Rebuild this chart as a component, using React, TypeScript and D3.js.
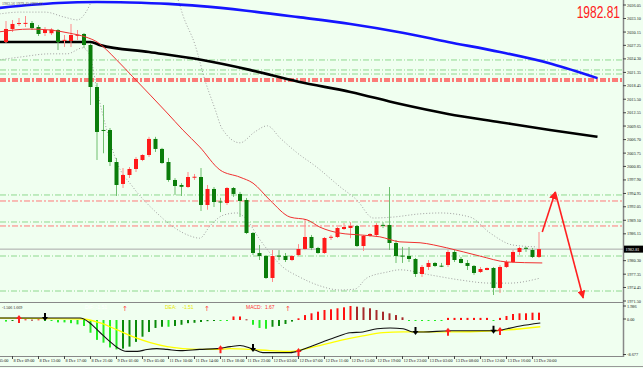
import React from "react";
import * as d3 from "d3";

const W = 643;
const H = 368;
const plotRight = 623;
const mainBottom = 302;
const subBottom = 356;

// hourly bars, 8 Dec 08:00 .. 13 Dec 22:00
const opens = [2027.98, 2030.82, 2031.91, 2032.1, 2032.12, 2031.25, 2029.94, 2029.9, 2030.6, 2028.35, 2028.2, 2029.45, 2029.73, 2027.33, 2018.17, 2008.8, 2008.79, 2001.81, 1997.02, 1998.98, 2000.29, 2002.25, 2003.34, 2006.84, 2004.66, 2001.81, 1997.89, 1996.8, 1996.36, 1998.5, 1998.54, 1992.44, 1995.93, 1993.2, 1992.87, 1996.14, 1994.84, 1993.53, 1986.33, 1981.97, 1981.31, 1976.52, 1981.4, 1981.31, 1980.44, 1981.53, 1982.84, 1985.46, 1983.06, 1981.97, 1985.4, 1985.46, 1987.2, 1987.42, 1987.86, 1983.49, 1985.68, 1985.89, 1988.1, 1988.08, 1984.15, 1981.4, 1981.31, 1980.66, 1977.39, 1978.92, 1979.79, 1979.2, 1979.35, 1982.19, 1980.66, 1979.79, 1979.14, 1977.83, 1978.26, 1978.7, 1974.34, 1978.92, 1980.01, 1982.19, 1983.1, 1982.62, 1981.1];
const highs = [2032.56, 2032.78, 2033.21, 2033.65, 2032.56, 2031.69, 2031.25, 2031.0, 2030.82, 2029.5, 2031.91, 2030.6, 2029.94, 2027.76, 2019.04, 2014.24, 2009.23, 2002.69, 2000.5, 2000.72, 2002.91, 2003.5, 2007.3, 2007.3, 2004.9, 2002.7, 1998.3, 1997.2, 1999.63, 1999.2, 2000.5, 1996.8, 1996.36, 1994.0, 1996.36, 1996.36, 1995.3, 1993.97, 1986.55, 1983.71, 1981.53, 1982.62, 1982.6, 1981.97, 1981.5, 1983.9, 1989.4, 1985.9, 1983.3, 1985.46, 1985.9, 1987.64, 1988.5, 1988.7, 1988.08, 1985.89, 1986.3, 1988.5, 1988.7, 1996.36, 1984.8, 1983.3, 1983.28, 1980.88, 1979.35, 1980.44, 1980.0, 1979.8, 1982.62, 1982.62, 1981.1, 1980.44, 1979.35, 1978.92, 1978.8, 1978.92, 1979.35, 1980.44, 1982.62, 1983.28, 1983.3, 1983.06, 1986.55];
const lows = [2027.76, 2030.16, 2031.47, 2031.25, 2030.6, 2029.29, 2029.29, 2029.5, 2026.24, 2026.9, 2026.89, 2028.4, 2026.67, 2014.24, 2002.25, 2003.72, 2000.94, 1994.4, 1996.14, 1998.32, 1999.63, 2002.0, 2002.9, 2004.0, 2001.4, 1997.5, 1994.6, 1994.4, 1996.14, 1997.9, 1991.13, 1991.4, 1992.0, 1990.9, 1992.44, 1994.2, 1989.82, 1986.1, 1981.53, 1980.44, 1976.3, 1975.65, 1980.4, 1980.0, 1980.2, 1981.3, 1982.6, 1982.6, 1981.8, 1981.8, 1984.8, 1985.24, 1987.0, 1985.2, 1983.28, 1982.4, 1985.5, 1985.46, 1987.4, 1982.62, 1979.79, 1979.8, 1980.0, 1976.74, 1976.74, 1978.26, 1978.9, 1978.9, 1978.92, 1980.0, 1979.7, 1978.26, 1977.2, 1977.61, 1978.2, 1972.81, 1973.25, 1978.7, 1979.79, 1981.53, 1982.2, 1980.88, 1980.88];
const closes = [2030.82, 2031.91, 2032.12, 2032.15, 2031.03, 2029.73, 2030.6, 2030.7, 2027.98, 2028.45, 2029.51, 2029.55, 2027.33, 2018.17, 2008.36, 2008.6, 2001.81, 1996.8, 1998.98, 2000.29, 2002.47, 2003.34, 2006.84, 2004.66, 2001.59, 1997.89, 1996.58, 1996.4, 1998.54, 1998.6, 1992.44, 1995.93, 1993.09, 1993.0, 1996.14, 1994.84, 1993.31, 1986.33, 1981.97, 1981.31, 1976.52, 1981.31, 1981.2, 1980.44, 1981.31, 1982.84, 1985.46, 1983.06, 1981.97, 1985.24, 1985.5, 1987.42, 1987.64, 1987.86, 1983.49, 1985.68, 1986.11, 1988.08, 1987.9, 1984.15, 1981.31, 1981.2, 1980.66, 1977.39, 1978.92, 1979.79, 1979.14, 1979.1, 1982.19, 1980.44, 1979.79, 1979.14, 1977.61, 1978.48, 1978.7, 1974.34, 1978.92, 1980.01, 1982.19, 1983.06, 1982.9, 1981.1, 1982.81];

// moving averages / bands: [bar, price]
const blueMA = [[-1, 2035.4], [4, 2036.1], [8, 2036.5], [14, 2036.7], [19, 2036.6], [25, 2036.3], [30, 2035.8], [37, 2034.8], [45, 2033.4], [53, 2031.9], [61, 2030.0], [68, 2028.0], [76, 2025.8], [84, 2023.2], [91, 2020.1]];
const blackMA = [[-1, 2027.98], [13, 2027.98], [14.5, 2027.3], [22, 2025.8], [30, 2024.1], [37.5, 2021.9], [45, 2019.3], [53, 2017.1], [60.5, 2014.5], [68, 2012.3], [76, 2010.5], [83.7, 2008.8], [91, 2007.3]];
const redMA = [[-1, 2030.2], [3.7, 2030.8], [6.8, 2030.6], [9.8, 2029.9], [12.2, 2029.1], [14, 2028.0], [17, 2024.1], [19.5, 2020.4], [22.2, 2016.4], [24.8, 2012.5], [27.2, 2008.8], [29.8, 2005.1], [32.9, 2000.1], [36, 1998.5], [38, 1997.2], [40.6, 1993.5], [43.7, 1989.8], [46.3, 1989.2], [48.3, 1987.6], [51.4, 1986.3], [54.5, 1985.9], [57.5, 1985.5], [60.6, 1984.4], [63.7, 1984.2], [67.8, 1983.1], [72.9, 1981.3], [77.1, 1980.0], [82.5, 1979.8]];
const upperBand = [[-1, 2034.1], [2.2, 2034.5], [6, 2034.5], [9, 2033.4], [11, 2032.8], [12.3, 2034.5], [13.4, 2037.6], [17, 2046], [23, 2046], [26.5, 2037.1], [27.2, 2033.9], [29.1, 2027.3], [30.6, 2019.7], [32.2, 2013.2], [33.2, 2009.2], [36, 2006.0], [38.3, 2008.4], [40.2, 2009.7], [42.2, 2007.0], [44.8, 2003.8], [47.8, 2000.7], [51.4, 1996.4], [54, 1993.5], [56.5, 1989.6], [59.5, 1989.8], [63.7, 1990.5], [66.8, 1990.7], [71.4, 1989.8], [74.5, 1986.3], [78, 1983.7], [81.7, 1983.3]];
const lowerBand = [[-1, 2024.1], [2.2, 2024.7], [6.8, 2025.4], [9.4, 2025.4], [11.8, 2026.7], [12.9, 2025.1], [14, 2017.5], [15.5, 2008.8], [17.1, 2001.6], [19.5, 1996.4], [23.2, 1990.7], [26, 1987.4], [28.3, 1985.7], [29.8, 1985.2], [31.4, 1987.9], [33.4, 1990.2], [35.5, 1990.7], [36.8, 1989.6], [39.1, 1984.8], [42.6, 1978.9], [45.2, 1976.7], [48.3, 1974.8], [51.4, 1973.9], [53.7, 1974.1], [55.5, 1976.5], [58.6, 1977.8], [60.6, 1978.3], [65.2, 1977.2], [69.8, 1976.1], [74.5, 1975.4], [77.5, 1975.4], [82.2, 1976.5]];

const greenLevels = [2024.06, 2021.88, 2021.0, 1994.62, 1988.73, 1981.31, 1973.68];
const redLevels = [2019.92, 2019.48, 1993.31, 1987.86];
const bidPrice = 1982.81;
const projection = [[82.5, 1986.56], [84.5, 1995.28], [88.8, 1972.17]];

// 1983.20 sits under the bid price box, so it is not shown
const priceTicks = [2036.05, 2033.1, 2030.15, 2027.25, 2024.3, 2021.35, 2018.45, 2015.5, 2012.55, 2009.65, 2006.7, 2003.75, 2000.85, 1997.9, 1994.95, 1992.05, 1989.1, 1986.15, 1980.3, 1977.35, 1974.45, 1971.5];
const timeLabels = ["8 Dec 05:00", "8 Dec 09:00", "8 Dec 13:00", "8 Dec 17:00", "8 Dec 21:00", "9 Dec 01:00", "9 Dec 05:00", "11 Dec 10:00", "11 Dec 14:00", "11 Dec 18:00", "11 Dec 23:00", "12 Dec 03:00", "12 Dec 07:00", "12 Dec 11:00", "12 Dec 15:00", "12 Dec 19:00", "12 Dec 23:00", "13 Dec 03:00", "13 Dec 08:00", "13 Dec 12:00", "13 Dec 16:00", "13 Dec 20:00"];

// MACD histogram per bar, DIF / DEA lines as [bar, value]
const macdHist = [-0.4, -0.1, 0.1, 0.1, 0.05, 0.1, -0.1, -0.2, -0.6, -0.6, -0.8, -1.1, -1.5, -3.2, -5.0, -5.7, -6.9, -7.4, -7.2, -6.7, -5.5, -4.2, -3.0, -2.0, -1.7, -1.7, -1.5, -1.2, -0.8, -0.7, -0.5, -0.3, -0.1, -0.1, -0.1, 0.5, 0.5, 0.1, -1.2, -2.0, -2.2, -1.7, -1.5, -1.0, -0.4, 0.24, 0.7, 0.95, 1.18, 1.42, 1.52, 1.66, 1.8, 1.986, 1.89, 1.8, 1.66, 1.42, 1.18, 0.95, 0.7, 0.38, -0.05, -0.1, -0.1, -0.1, -0.1, -0.1, 0.3, 0.3, 0.3, 0.3, 0.3, 0.3, 0.3, -0.1, 0.3, 0.57, 0.85, 0.95, 0.95, 1.04, 1.04];
const difLine = [[-1, 0.28], [11.4, 0.28], [12.9, -0.74], [14.5, -3.2], [16, -5.45], [17.1, -6.9], [18.6, -7.9], [20.2, -7.9], [21.7, -7.4], [23.2, -7.2], [24.8, -7.4], [26.8, -7.7], [29.8, -7.4], [32.5, -7.2], [34.5, -6.7], [36, -6.4], [37.8, -7.2], [39.5, -8.2], [41.7, -8.2], [43.7, -8.2], [45.2, -7.7], [46.8, -6.7], [48.8, -5.45], [50.9, -4.2], [52.9, -3.2], [54.9, -3.0], [57.1, -2.2], [59.1, -2.0], [61.1, -2.2], [62.6, -3.0], [64.2, -3.0], [68.3, -2.7], [75.5, -2.7], [77.1, -2.2], [79.1, -1.5], [82.2, -0.74]];
const deaLine = [[-1, 0.28], [11.8, 0.14], [14.5, -0.74], [17.1, -2.5], [19.5, -4.2], [22.2, -5.7], [24.8, -6.7], [27.2, -7.2], [29.8, -7.4], [32.5, -7.4], [34.5, -7.2], [37.5, -7.4], [40.6, -7.7], [43.7, -7.9], [45.7, -7.4], [48.8, -6.2], [51.8, -5.0], [54.9, -4.0], [58, -3.2], [61.1, -3.0], [65.2, -3.0], [67.8, -3.0], [75, -2.7], [77.1, -2.5], [82.2, -1.7]];
const upArrows = [2, 33, 45, 68, 76];
const downArrows = [6, 38, 63, 75];
const macdTicks = [1.986, 0, -8.677];

const x = d3.scaleLinear().domain([0, 82]).range([6, 539]);
const y = d3.scaleLinear().domain([1971.5, 2036.05]).range([301, 5]);
const my = d3.scaleLinear().domain([-8.677, 0, 1.986]).range([354.5, 320, 306]);

const priceLine = d3.line<number[]>().x(d => x(d[0])).y(d => y(d[1])).curve(d3.curveMonotoneX);
const macdLine = d3.line<number[]>().x(d => x(d[0])).y(d => my(d[1])).curve(d3.curveMonotoneX);
const interp = (pts: number[][], b: number) => {
  for (let i = 1; i < pts.length; i++) {
    if (b <= pts[i][0]) {
      const t = (b - pts[i - 1][0]) / (pts[i][0] - pts[i - 1][0]);
      return pts[i - 1][1] + t * (pts[i][1] - pts[i - 1][1]);
    }
  }
  return pts[pts.length - 1][1];
};

const small = { fontFamily: "Liberation Serif", fontSize: 4.3, fill: "#222" };

export default function App() {
  return (
    <div>
      <style>{`body{margin:0}`}</style>
      <svg width={W} height={H} style={{ display: "block", background: "#f0fff0" }}>
        <defs>
          <clipPath id="mainClip"><rect x={0} y={0} width={plotRight} height={mainBottom} /></clipPath>
          <clipPath id="subClip"><rect x={0} y={mainBottom + 1} width={plotRight} height={subBottom - mainBottom - 1} /></clipPath>
          <marker id="head" viewBox="0 0 10 10" refX={9} refY={5} markerWidth={5} markerHeight={5} orient="auto">
            <path d="M0,0 L10,5 L0,10 z" fill="#ff2020" />
          </marker>
        </defs>

        <g clipPath="url(#mainClip)">
          {greenLevels.map((p, i) => (
            <line key={"g" + i} x1={0} x2={plotRight} y1={y(p)} y2={y(p)} stroke="#8ed88e" strokeDasharray="6 2 1 2" />
          ))}
          {redLevels.map((p, i) => (
            <line key={"r" + i} x1={0} x2={plotRight} y1={y(p)} y2={y(p)} stroke={i < 2 ? "#ff5050" : "#ff7a7a"} strokeWidth={i < 2 ? 1.4 : 1} strokeDasharray="6 2 2 2" />
          ))}
          <line x1={0} x2={plotRight} y1={y(bidPrice)} y2={y(bidPrice)} stroke="#a8a8a8" />

          <path d={priceLine(upperBand) || ""} fill="none" stroke="#a0a0a0" strokeDasharray="1 2" />
          <path d={priceLine(lowerBand) || ""} fill="none" stroke="#a0a0a0" strokeDasharray="1 2" />
          <path d={priceLine(blueMA) || ""} fill="none" stroke="#1515ff" strokeWidth={2.6} />
          <path d={priceLine(blackMA) || ""} fill="none" stroke="#000" strokeWidth={2.6} />

          {opens.map((o, i) => {
            const c = closes[i];
            const up = c >= o;
            const top = y(Math.max(o, c));
            const h = Math.max(1, y(Math.min(o, c)) - top);
            return (
              <g key={i}>
                <line x1={x(i)} x2={x(i)} y1={y(highs[i])} y2={y(lows[i])} stroke={up ? "#ff8a8a" : "#6fbf6f"} />
                <rect x={x(i) - 2} y={top} width={4} height={h} fill={up ? "#ff1a1a" : "#0a7d0a"} />
              </g>
            );
          })}

          <path d={priceLine(redMA) || ""} fill="none" stroke="#f03030" strokeWidth={1} />

          <line x1={x(projection[0][0])} y1={y(projection[0][1])} x2={x(projection[1][0])} y2={y(projection[1][1])} stroke="#ff2020" strokeWidth={1.6} markerEnd="url(#head)" />
          <line x1={x(projection[1][0])} y1={y(projection[1][1])} x2={x(projection[2][0])} y2={y(projection[2][1])} stroke="#ff2020" strokeWidth={1.6} markerEnd="url(#head)" />
        </g>

        <text x={2} y={5} style={{ ...small, fontSize: 4, fill: "#555" }}>1983.56 1979.45 1982.81</text>
        <text transform="translate(620,18) scale(0.75,1)" textAnchor="end" style={{ fontFamily: "Liberation Sans", fontSize: 16, fill: "#ff2020" }}>1982.81</text>

        {/* MACD window */}
        <g clipPath="url(#subClip)">
          {macdHist.map((v, i) => {
            const prev = i > 0 ? macdHist[i - 1] : v;
            const col = v >= 0 ? (v >= prev ? "#ff1010" : "#a52a2a") : (v <= prev ? "#22ee22" : "#0a8a0a");
            const y0 = my(0);
            const y1 = my(v);
            return <rect key={i} x={x(i) - 1} y={Math.min(y0, y1)} width={2} height={Math.max(1, Math.abs(y1 - y0))} fill={col} />;
          })}
          <path d={macdLine(deaLine) || ""} fill="none" stroke="#ffff00" strokeWidth={1.3} />
          <path d={macdLine(difLine) || ""} fill="none" stroke="#111" strokeWidth={1.1} />
          {upArrows.map((b, i) => {
            const cx = x(b), cy = my(interp(difLine, b)) - 3;
            return <path key={"u" + i} d={`M${cx},${cy} L${cx + 3},${cy + 4} L${cx + 1},${cy + 4} L${cx + 1},${cy + 8} L${cx - 1},${cy + 8} L${cx - 1},${cy + 4} L${cx - 3},${cy + 4} Z`} fill="#ff2020" />;
          })}
          {downArrows.map((b, i) => {
            const cx = x(b), cy = my(interp(difLine, b)) + 3;
            return <path key={"d" + i} d={`M${cx},${cy} L${cx + 3},${cy - 4} L${cx + 1},${cy - 4} L${cx + 1},${cy - 8} L${cx - 1},${cy - 8} L${cx - 1},${cy - 4} L${cx - 3},${cy - 4} Z`} fill="#000" />;
          })}
        </g>
        <text x={2} y={309} style={{ ...small, fontSize: 4 }}>-1.506 1.669</text>
        <text x={85} y={309} style={{ fontFamily: "Liberation Sans", fontSize: 5, fill: "#ffffff" }}>DIF: -1.51</text>
        <text x={165} y={309} style={{ fontFamily: "Liberation Sans", fontSize: 5, fill: "#e8e800" }}>DEA: &#160;&#160; -1.51</text>
        <text x={246} y={309} style={{ fontFamily: "Liberation Sans", fontSize: 5, fill: "#ff3030" }}>MACD: &#160;1.67</text>
        {[125, 207, 288].map((px, i) => (
          <text key={i} x={px} y={311} textAnchor="middle" style={{ fontFamily: "DejaVu Sans", fontSize: 7, fill: "#ff4040" }}>↑</text>
        ))}

        {/* frames */}
        <line x1={0} x2={plotRight} y1={mainBottom + 0.5} y2={mainBottom + 0.5} stroke="#888" />
        <line x1={0} x2={plotRight} y1={subBottom + 0.5} y2={subBottom + 0.5} stroke="#888" />
        <line x1={plotRight + 0.5} x2={plotRight + 0.5} y1={0} y2={subBottom + 1} stroke="#888" strokeWidth={1.5} />
        <line x1={0} x2={W} y1={366.5} y2={366.5} stroke="#999" />

        {priceTicks.map((p, i) => (
          <g key={i}>
            <line x1={plotRight} x2={plotRight + 3} y1={y(p)} y2={y(p)} stroke="#444" />
            <text x={plotRight + 4} y={y(p) + 1.5} style={small}>{p.toFixed(2)}</text>
          </g>
        ))}
        <rect x={plotRight + 1} y={y(bidPrice) - 3.5} width={19} height={7} fill="#000" />
        <text x={plotRight + 2.5} y={y(bidPrice) + 1.5} style={{ ...small, fill: "#fff" }}>{bidPrice.toFixed(2)}</text>

        {macdTicks.map((v, i) => (
          <g key={i}>
            <line x1={plotRight} x2={plotRight + 3} y1={my(v) - (v === 0 ? 1 : 0)} y2={my(v) - (v === 0 ? 1 : 0)} stroke="#444" />
            <text x={plotRight + 4} y={my(v) + 1.5 - (v === 0 ? 1 : 0)} style={small}>{v === 0 ? "0.00" : v.toFixed(3)}</text>
          </g>
        ))}

        {timeLabels.map((t, i) => {
          const b = -3 + 4 * i;
          return (
            <g key={t}>
              <line x1={x(b)} x2={x(b)} y1={subBottom} y2={subBottom + 3} stroke="#444" />
              <text x={x(b) + 1} y={362} style={small}>{t}</text>
            </g>
          );
        })}
      </svg>
    </div>
  );
}
